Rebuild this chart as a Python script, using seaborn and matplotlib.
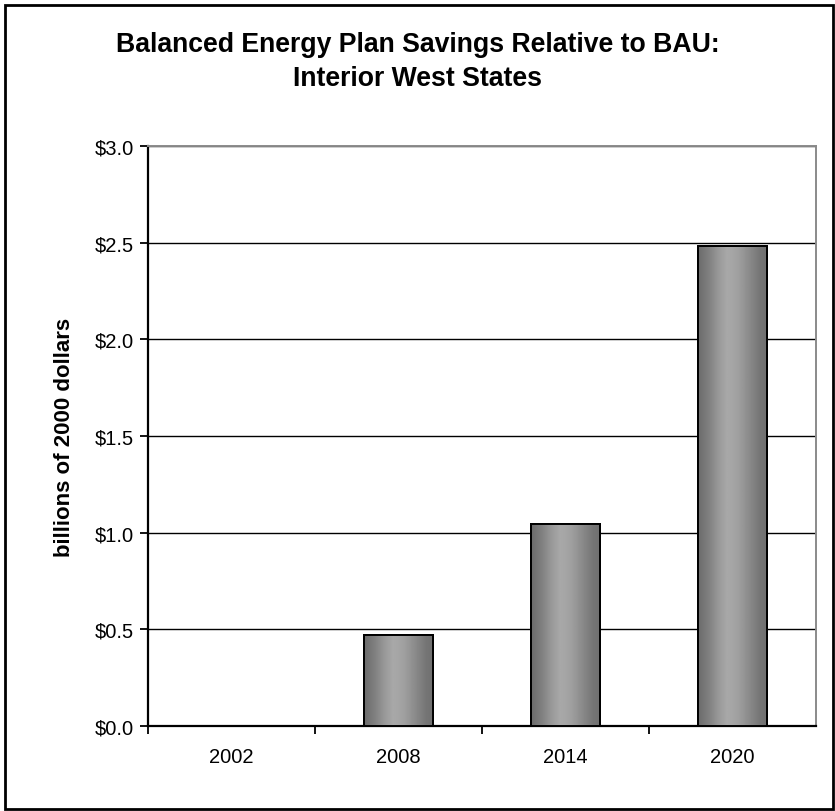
import numpy as np
import pandas as pd
import matplotlib
matplotlib.use("Agg")
import matplotlib.pyplot as plt
from matplotlib.patches import Rectangle
from matplotlib.ticker import FixedLocator
import seaborn as sns

years = ["2002", "2008", "2014", "2020"]
savings = [0.0, 0.47, 1.045, 2.485]
y_ticks = [0.0, 0.5, 1.0, 1.5, 2.0, 2.5, 3.0]
y_tick_labels = ["$0.0", "$0.5", "$1.0", "$1.5", "$2.0", "$2.5", "$3.0"]
title = "Balanced Energy Plan Savings Relative to BAU:\nInterior West States"
y_label = "billions of 2000 dollars"

sns.set_theme(style="white")
plt.rcParams["font.family"] = ["Liberation Sans", "DejaVu Sans"]
plt.rcParams["text.color"] = "black"
plt.rcParams["axes.labelcolor"] = "black"
plt.rcParams["xtick.color"] = "black"
plt.rcParams["ytick.color"] = "black"

df = pd.DataFrame({"year": years, "savings": savings})

fig = plt.figure(figsize=(8.35, 8.12), dpi=100, facecolor="white")
ax = fig.add_axes([148 / 835, 1 - 727 / 812, (816 - 148) / 835, (727 - 147) / 812])
ax.set_facecolor("white")

sns.barplot(data=df, x="year", y="savings", color="#909090", width=0.41,
            edgecolor="black", linewidth=1.4, ax=ax, zorder=3)

ax.set_xlim(-0.5, 3.5)
ax.set_ylim(0, 3.0)

# gradient fill clipped to bars
grad = np.array([0.0, 0.15, 0.3, 0.42, 0.5, 0.6, 0.75, 0.9, 1.0])
vals = np.array([0.42, 0.50, 0.60, 0.66, 0.65, 0.62, 0.54, 0.46, 0.44])
xs = np.linspace(0, 1, 200)
row = np.interp(xs, grad, vals)
img = np.tile(row, (2, 1))
for p in ax.patches:
    h = p.get_height()
    if h <= 0:
        continue
    x0 = p.get_x()
    w = p.get_width()
    im = ax.imshow(img, cmap="gray", vmin=0, vmax=1, aspect="auto",
                   extent=[x0, x0 + w, 0, h], zorder=3.5, interpolation="bilinear")
    im.set_clip_path(p)
    ax.add_patch(Rectangle((x0, 0), w, h, fill=False, edgecolor="black",
                           linewidth=1.4, zorder=4))
ax.set_xlim(-0.5, 3.5)
ax.set_ylim(0, 3.0)

ax.set_yticks(y_ticks)
ax.set_yticklabels(y_tick_labels, fontsize=14.5, color="black")
ax.yaxis.grid(True, color="black", linewidth=1.0, zorder=1)
ax.set_axisbelow(True)

ax.set_xticks(range(len(years)))
ax.set_xticklabels(years, fontsize=14.5, color="black")
ax.xaxis.set_minor_locator(FixedLocator([-0.5, 0.5, 1.5, 2.5]))
ax.tick_params(axis="x", which="major", length=0, pad=15)
ax.tick_params(axis="x", which="minor", length=6, width=1.3, color="black", direction="out", bottom=True)
ax.tick_params(axis="y", which="major", length=6, width=1.3, color="black", direction="out", left=True, pad=4)

ax.set_xlabel("")
ax.set_ylabel(y_label, fontsize=16, fontweight="bold", labelpad=14, color="black")

for s in ["left", "bottom"]:
    ax.spines[s].set_color("black")
    ax.spines[s].set_linewidth(1.6)
    ax.spines[s].set_visible(True)
for s in ["top", "right"]:
    ax.spines[s].set_color("#8a8a8a")
    ax.spines[s].set_linewidth(1.4)
    ax.spines[s].set_visible(True)

fig.text(0.5, 1 - 62 / 812, title, ha="center", va="center", fontsize=19.2,
         fontweight="bold", linespacing=1.45, color="black")

fig.add_artist(Rectangle((5 / 835, 2 / 812), 828 / 835, 804 / 812, transform=fig.transFigure,
                         fill=False, edgecolor="black", linewidth=2))

fig.savefig("out.png", dpi=100, facecolor="white")
